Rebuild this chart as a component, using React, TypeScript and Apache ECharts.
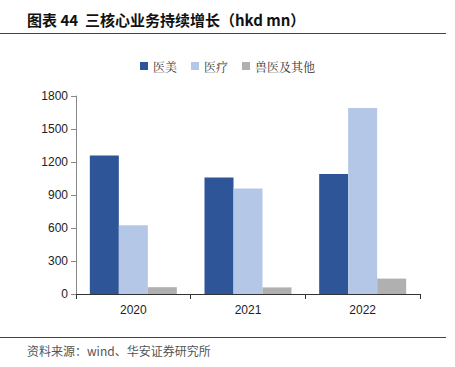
import React, { useEffect, useRef } from "react";
import * as echarts from "echarts";

const categories = ["2020", "2021", "2022"];
const seriesNames = ["医美", "医疗", "兽医及其他"];
const yiMei = [1260, 1058, 1092];
const yiLiao = [625, 960, 1690];
const shouYi = [62, 60, 140];
const colors = ["#2E5597", "#B4C7E7", "#B0B0B0"];

export default function App() {
  const ref = useRef<HTMLDivElement>(null);
  useEffect(() => {
    const chart = echarts.init(ref.current!, null, { renderer: "svg" });
    const font = "'Liberation Sans', Arial, sans-serif";
    chart.setOption({
      animation: false,
      backgroundColor: "#fff",
      textStyle: { fontFamily: font },
      legend: {
        top: 55,
        left: "center",
        itemWidth: 8,
        itemHeight: 8,
        itemGap: 14,
        icon: "rect",
        textStyle: { fontSize: 12, color: "#333", fontFamily: "'Noto Serif CJK SC', 'Noto Sans CJK SC', serif" },
        data: seriesNames,
      },
      grid: { left: 76, right: 35, top: 96, bottom: 73 },
      xAxis: {
        type: "category",
        data: categories,
        axisLine: { lineStyle: { color: "#333", width: 1 } },
        axisTick: { show: true, inside: false, length: 5, lineStyle: { color: "#333" } },
        axisLabel: { fontSize: 12, color: "#222", margin: 10 },
      },
      yAxis: {
        type: "value",
        min: 0,
        max: 1800,
        interval: 300,
        splitLine: { show: false },
        axisLine: { show: true, lineStyle: { color: "#888" } },
        axisTick: { show: true, length: 5, lineStyle: { color: "#888" } },
        axisLabel: { fontSize: 12, color: "#222", margin: 8, formatter: (v: number) => String(v) },
      },
      series: [
        { name: seriesNames[0], type: "bar", data: yiMei, barWidth: 29, barGap: "0%", itemStyle: { color: colors[0] } },
        { name: seriesNames[1], type: "bar", data: yiLiao, barWidth: 29, barGap: "0%", itemStyle: { color: colors[1] } },
        { name: seriesNames[2], type: "bar", data: shouYi, barWidth: 29, barGap: "0%", itemStyle: { color: colors[2] } },
      ],
      graphic: [
        {
          type: "text",
          left: 27,
          top: 12,
          style: {
            text: "图表 44  三核心业务持续增长（hkd mn）",
            font: "bold 15px 'Noto Sans CJK SC', sans-serif",
            fill: "#111",
          },
        },
        { type: "line", shape: { x1: 0, y1: 33.5, x2: 446, y2: 33.5 }, style: { stroke: "#444", lineWidth: 1 } },
        { type: "line", shape: { x1: 0, y1: 337.5, x2: 446, y2: 337.5 }, style: { stroke: "#444", lineWidth: 1 } },
        {
          type: "text",
          left: 27,
          top: 344,
          style: {
            text: "资料来源：wind、华安证券研究所",
            font: "12px 'Noto Sans CJK SC', sans-serif",
            fill: "#555",
          },
        },
      ],
    });
    return () => chart.dispose();
  }, []);
  return <div ref={ref} style={{ position: "fixed", left: 0, top: 0, width: 455, height: 367 }} />;
}
